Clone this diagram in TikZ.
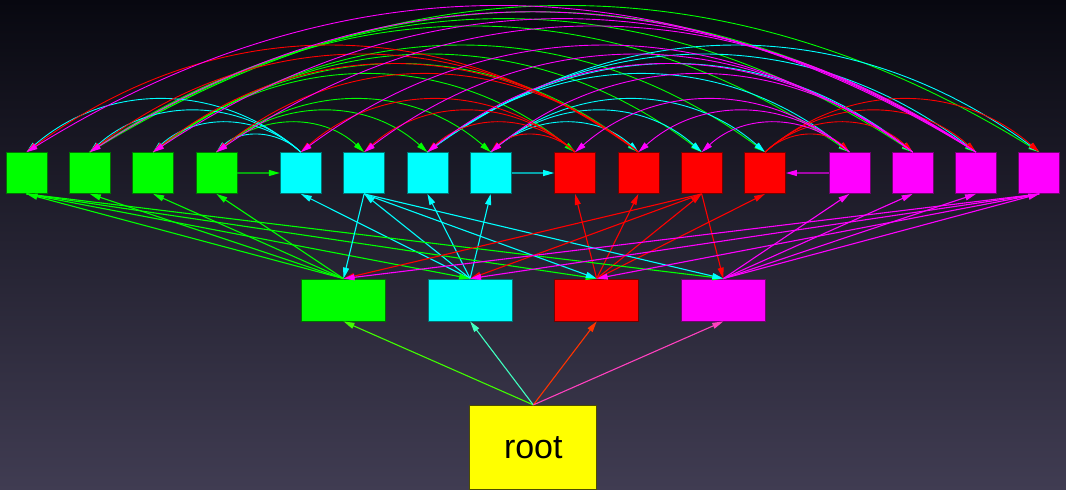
\documentclass[tikz,border=0pt]{standalone}
\usepackage{fontspec}
\setmainfont{Liberation Sans}
\usetikzlibrary{arrows.meta}
\definecolor{nodeG}{RGB}{0,255,0}
\definecolor{nodeC}{RGB}{0,255,255}
\definecolor{nodeR}{RGB}{255,0,0}
\definecolor{nodeM}{RGB}{255,0,255}
\definecolor{nodeY}{RGB}{255,255,0}
\definecolor{bgTop}{RGB}{8,8,16}
\definecolor{bgMid}{RGB}{22,22,40}
\definecolor{bgBot}{RGB}{64,60,82}
% x position of an item, stored while the items are placed
\newcommand{\itemx}[1]{\csname itemx#1\endcsname}

\begin{document}
\begin{tikzpicture}[x=1pt, y=1pt,
    itembox/.style={rectangle, minimum width=41pt, minimum height=41pt, inner sep=0pt, line width=0.8pt},
    catbox/.style={rectangle, minimum width=84pt, minimum height=42pt, inner sep=0pt, line width=0.8pt},
    link/.style={line width=1.1pt, -{Triangle[length=11pt,width=6pt]}},
    hop/.style={line width=0.9pt, -{Triangle[length=11pt,width=6pt]}}]
  \shade[top color=bgTop, middle color=bgMid, bottom color=bgBot] (0,0) rectangle (1066,-490);
  \useasboundingbox (0,0) rectangle (1066,-490);

  % four items and one category box per colour
  \foreach \grp/\col [count=\gi from 0] in {g/nodeG, c/nodeC, r/nodeR, m/nodeM}{
    \foreach \k in {1,...,4}{
      \pgfmathsetmacro\ix{26.5+\gi*274.3+(\k-1)*63.3}
      \expandafter\xdef\csname itemx\grp\k\endcsname{\ix}
      \node[itembox, fill=\col, draw=\col!45!black] (\grp\k) at (\ix,-173) {};
    }
    \node[catbox, fill=\col, draw=\col!45!black] (cat-\grp) at ({343.5+\gi*126.6},-300) {};
  }
  \node[catbox, minimum width=127pt, minimum height=84pt, fill=nodeY, draw=nodeY!30!black,
        font=\fontsize{34pt}{34pt}\selectfont] (root) at (533.3,-447.3) {root};

  \foreach \grp/\col in {g/nodeG!75!yellow, c/nodeC!75!yellow, r/nodeR!80!yellow, m/nodeM!75!yellow}
    \draw[link, color=\col] (root.north) -- (cat-\grp.south);

  \foreach \grp/\col in {g/nodeG, c/nodeC, r/nodeR, m/nodeM}
    \foreach \k in {1,...,4}
      \draw[link, color=\col] (cat-\grp.north) -- (\grp\k.south);

  % one item of each colour feeds the other categories
  \foreach \src/\col/\tgts in {g1/nodeG/{c,r,m}, c2/nodeC/{g,r,m}, r3/nodeR/{g,c,m}, m4/nodeM/{g,c,r}}
    \foreach \t in \tgts
      \draw[link, color=\col] (\src.south) -- (cat-\t.north);

  % neighbours side by side
  \foreach \a/\b/\col in {g4.east/c1.west/nodeG, c4.east/r1.west/nodeC, m1.west/r4.east/nodeM}
    \draw[line width=1.1pt, draw=\col!60!bgMid, -{Triangle[length=11pt,width=6pt,color=\col]}] (\a) -- (\b);

  % arcs over the row
  \foreach \src/\col/\tgts in {
      g2/nodeG/{m1,m2,m3,m4}, g3/nodeG/{r1,r2,r3,r4}, g4/nodeG/{c2,c3,c4},
      c1/nodeC/{g1,g2,g3,g4}, c3/nodeC/{m1,m2,m3,m4}, c4/nodeC/{r2,r3,r4},
      r1/nodeR/{c1,c2,c3,c4}, r2/nodeR/{g1,g2,g3,g4}, r4/nodeR/{m1,m2,m3,m4},
      m1/nodeM/{r1,r2,r3}, m2/nodeM/{c1,c2,c3,c4}, m3/nodeM/{g1,g2,g3,g4}}{
    \foreach \t in \tgts {
      \pgfmathsetmacro\dx{\itemx{\t}-\itemx{\src}}
      \pgfmathsetmacro\bend{45-0.014*abs(\dx)}
      \pgfmathsetmacro\aout{\dx>0 ? \bend : 180-\bend}
      \pgfmathsetmacro\ain{180-\aout}
      \draw[hop, color=\col] (\src.north) to[out=\aout, in=\ain] (\t.north);
    }
  }
\end{tikzpicture}
\end{document}
